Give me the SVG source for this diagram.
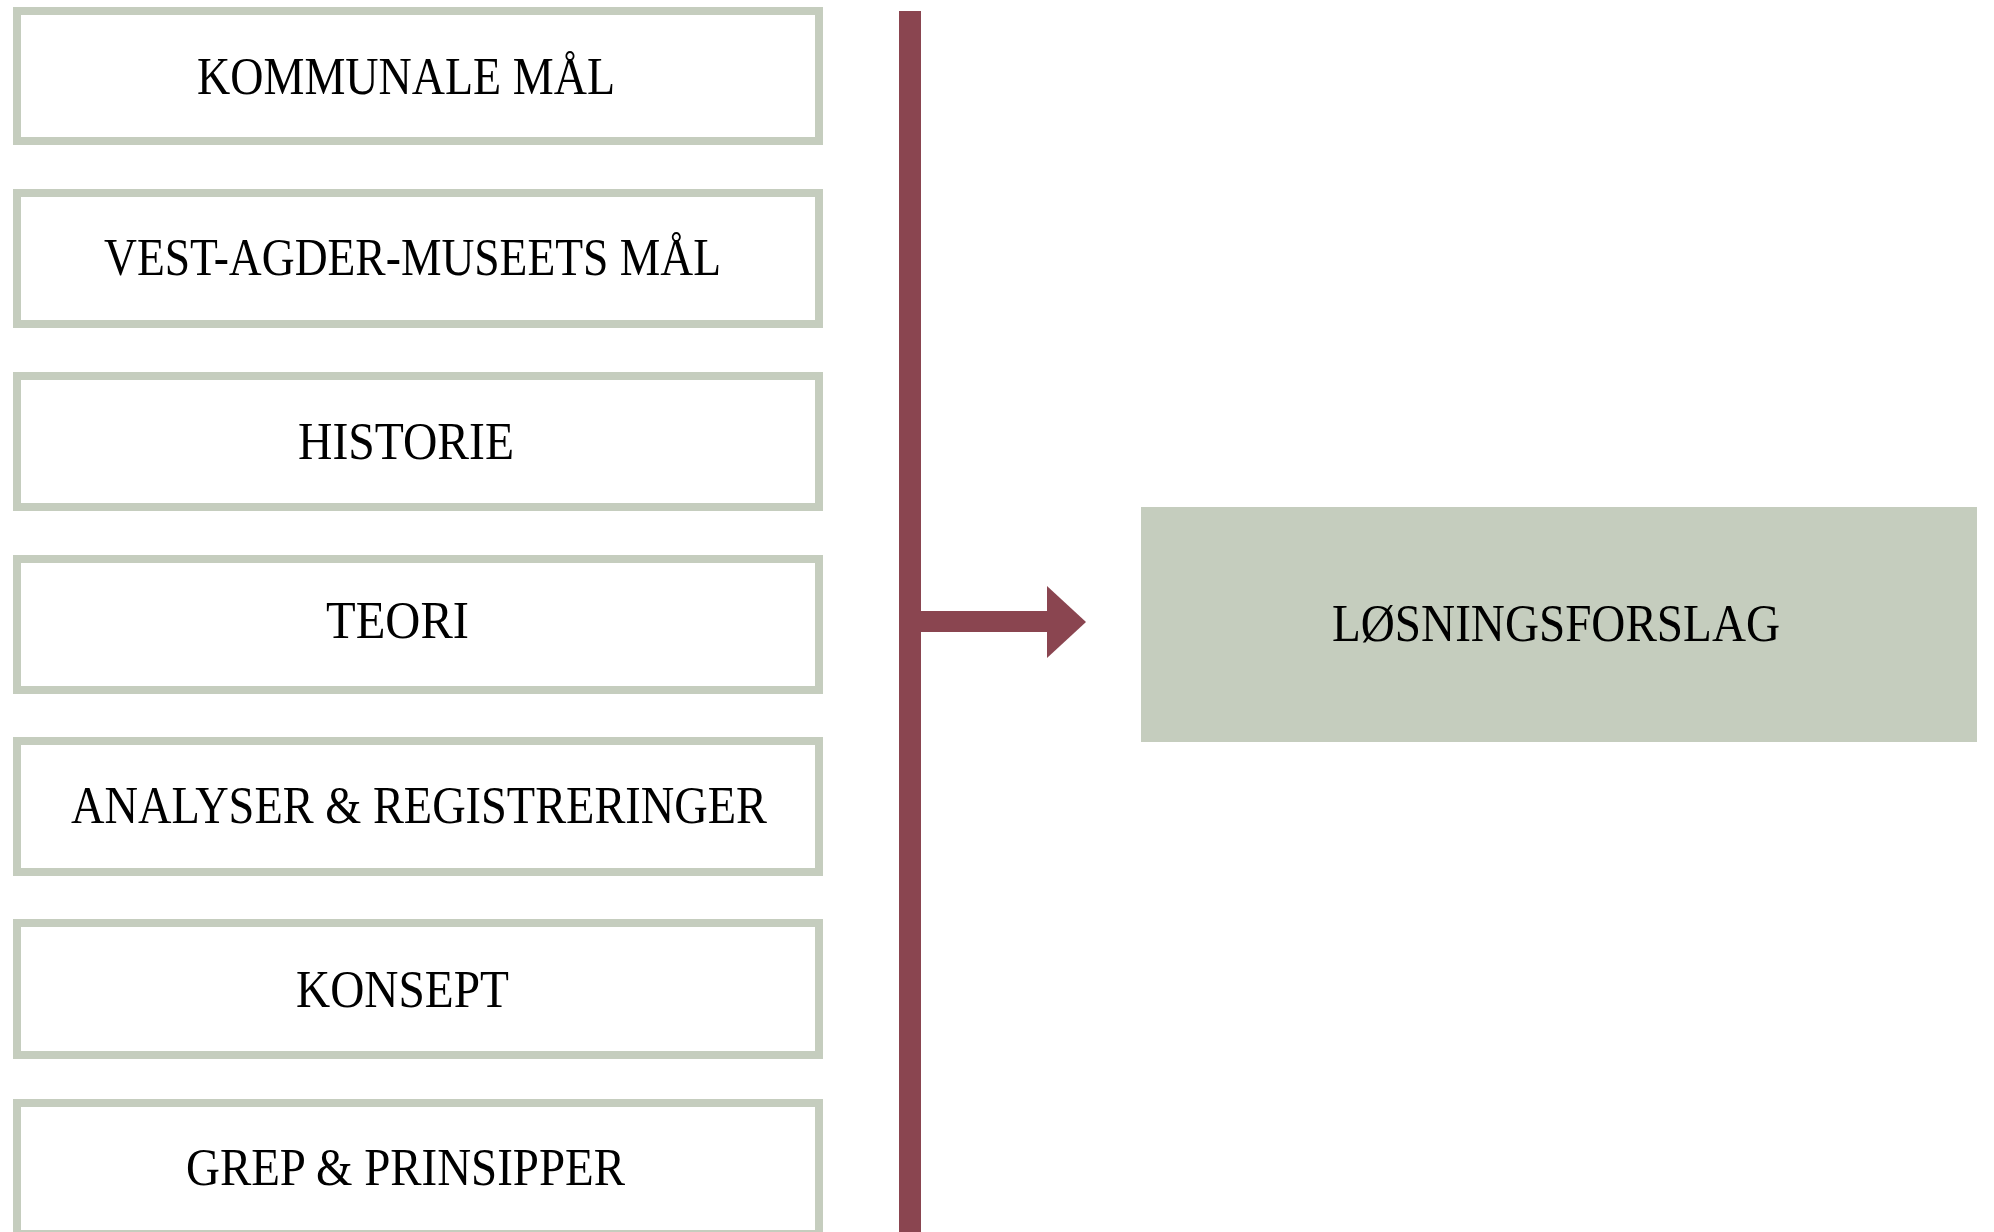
<svg xmlns="http://www.w3.org/2000/svg" width="1994" height="1232" viewBox="0 0 1994 1232">
<style>
.box{fill:#ffffff;stroke:#C5CDBE;stroke-width:8}
.lbl{font-family:"Liberation Serif","DejaVu Serif",serif;font-size:53px;fill:#000000}
.conn{fill:#8A4550}
</style>
<rect width="1994" height="1232" fill="#ffffff"/>
<g id="node-kommunale">
<rect class="box" x="17" y="11" width="802" height="130"/>
<text class="lbl" x="197" y="94" textLength="418" lengthAdjust="spacingAndGlyphs">KOMMUNALE MÅL</text>
</g>
<g id="node-vest-agder">
<rect class="box" x="17" y="193" width="802" height="131"/>
<text class="lbl" x="104" y="275" textLength="617" lengthAdjust="spacingAndGlyphs">VEST-AGDER-MUSEETS MÅL</text>
</g>
<g id="node-historie">
<rect class="box" x="17" y="376" width="802" height="131"/>
<text class="lbl" x="298" y="459" textLength="216" lengthAdjust="spacingAndGlyphs">HISTORIE</text>
</g>
<g id="node-teori">
<rect class="box" x="17" y="559" width="802" height="131"/>
<text class="lbl" x="326" y="638" textLength="143" lengthAdjust="spacingAndGlyphs">TEORI</text>
</g>
<g id="node-analyser">
<rect class="box" x="17" y="741" width="802" height="131"/>
<text class="lbl" x="71" y="823" textLength="696" lengthAdjust="spacingAndGlyphs">ANALYSER &amp; REGISTRERINGER</text>
</g>
<g id="node-konsept">
<rect class="box" x="17" y="923" width="802" height="132"/>
<text class="lbl" x="296" y="1007" textLength="213" lengthAdjust="spacingAndGlyphs">KONSEPT</text>
</g>
<g id="node-grep">
<rect class="box" x="17" y="1103" width="802" height="131"/>
<text class="lbl" x="186" y="1185" textLength="439" lengthAdjust="spacingAndGlyphs">GREP &amp; PRINSIPPER</text>
</g>
<g id="node-losningsforslag">
<rect x="1141" y="507" width="836" height="235" fill="#C5CDBE"/>
<text class="lbl" x="1332" y="641" textLength="448" lengthAdjust="spacingAndGlyphs">LØSNINGSFORSLAG</text>
</g>
<g id="connectors">
<rect class="conn" x="899" y="11" width="22" height="1221"/>
<rect class="conn" x="920" y="611" width="128" height="21"/>
<polygon class="conn" points="1047,586 1086,622 1047,658"/>
</g>
</svg>
